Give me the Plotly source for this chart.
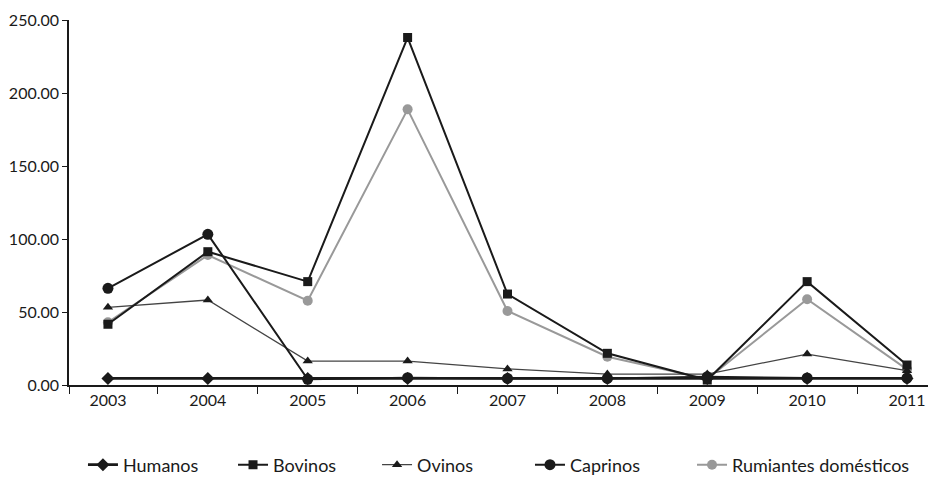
import plotly.graph_objects as go

years = [2003, 2004, 2005, 2006, 2007, 2008, 2009, 2010, 2011]
humanos = [4.5, 4.5, 4.5, 4.5, 4.5, 4.5, 4.5, 4.5, 4.5]
bovinos = [41.6, 91.3, 70.8, 238.0, 62.3, 21.7, 3.4, 70.8, 13.7]
ovinos = [53.2, 58.2, 16.4, 16.4, 11.0, 7.5, 7.5, 21.2, 9.8]
caprinos = [66.2, 103.2, 3.9, 5.0, 4.5, 4.5, 5.7, 4.8, 4.8]
rumiantes = [43.0, 89.0, 57.7, 188.8, 50.7, 19.4, 4.1, 58.7, 10.7]
y_ticks = [0, 50, 100, 150, 200, 250]

FONT = "Lato"
INK = "#1a1a1a"

fig = go.Figure()

# draw order (bottom to top); each series has its own legend box for exact placement
fig.add_trace(go.Scatter(x=years, y=rumiantes, name="Rumiantes domésticos", mode="lines+markers",
                         line=dict(color="#999999", width=2),
                         marker=dict(symbol="circle", size=10, color="#999999"), legend="legend5"))
fig.add_trace(go.Scatter(x=years, y=ovinos, name="Ovinos", mode="lines+markers",
                         line=dict(color="#444444", width=1.3),
                         marker=dict(symbol="triangle-up", size=9, color=INK), legend="legend3"))
fig.add_trace(go.Scatter(x=years, y=bovinos, name="Bovinos", mode="lines+markers",
                         line=dict(color=INK, width=2),
                         marker=dict(symbol="square", size=9, color=INK), legend="legend2"))
fig.add_trace(go.Scatter(x=years, y=caprinos, name="Caprinos", mode="lines+markers",
                         line=dict(color=INK, width=2),
                         marker=dict(symbol="circle", size=11, color=INK), legend="legend4"))
fig.add_trace(go.Scatter(x=years, y=humanos, name="Humanos", mode="lines+markers",
                         line=dict(color=INK, width=2.8),
                         marker=dict(symbol="diamond", size=10, color=INK), legend="legend"))

x_lo, x_hi = 2002.61, 2011.21


def leg(x):
    return dict(orientation="h", xref="container", yref="container",
                x=x, xanchor="left", y=0.0252, yanchor="middle",
                font=dict(family=FONT, size=18, color=INK), bgcolor="rgba(0,0,0,0)")


fig.update_layout(
    width=928, height=477,
    margin=dict(l=69, r=0, t=20, b=92),
    paper_bgcolor="white", plot_bgcolor="white",
    font=dict(family=FONT, size=16, color=INK),
    showlegend=True,
    legend=leg(0.0894), legend2=leg(0.2511), legend3=leg(0.4063),
    legend4=leg(0.5711), legend5=leg(0.7457),
    xaxis=dict(range=[x_lo, x_hi], tickvals=years, ticktext=[str(y) for y in years],
               ticks="", showgrid=False, zeroline=False, automargin=False,
               showline=True, linecolor=INK, linewidth=1.5,
               tickfont=dict(family=FONT, size=16), ticklabeloverflow="allow",
               minor=dict(tickvals=[x_lo + 0.002] + [y + 0.5 for y in years[:-1]],
                          ticks="outside", ticklen=7, tickcolor=INK, tickwidth=1.2,
                          showgrid=False)),
    yaxis=dict(range=[0, 250], tickvals=y_ticks, tickformat=".2f",
               ticks="outside", ticklen=5, tickcolor=INK, tickwidth=1.2,
               showgrid=False, zeroline=False, automargin=False,
               showline=True, linecolor=INK, linewidth=1.5,
               tickfont=dict(family=FONT, size=16)),
)

fig.write_html("out.html", config={"displayModeBar": False},
               post_script="document.body.style.margin='0';document.body.style.overflow='hidden';")
